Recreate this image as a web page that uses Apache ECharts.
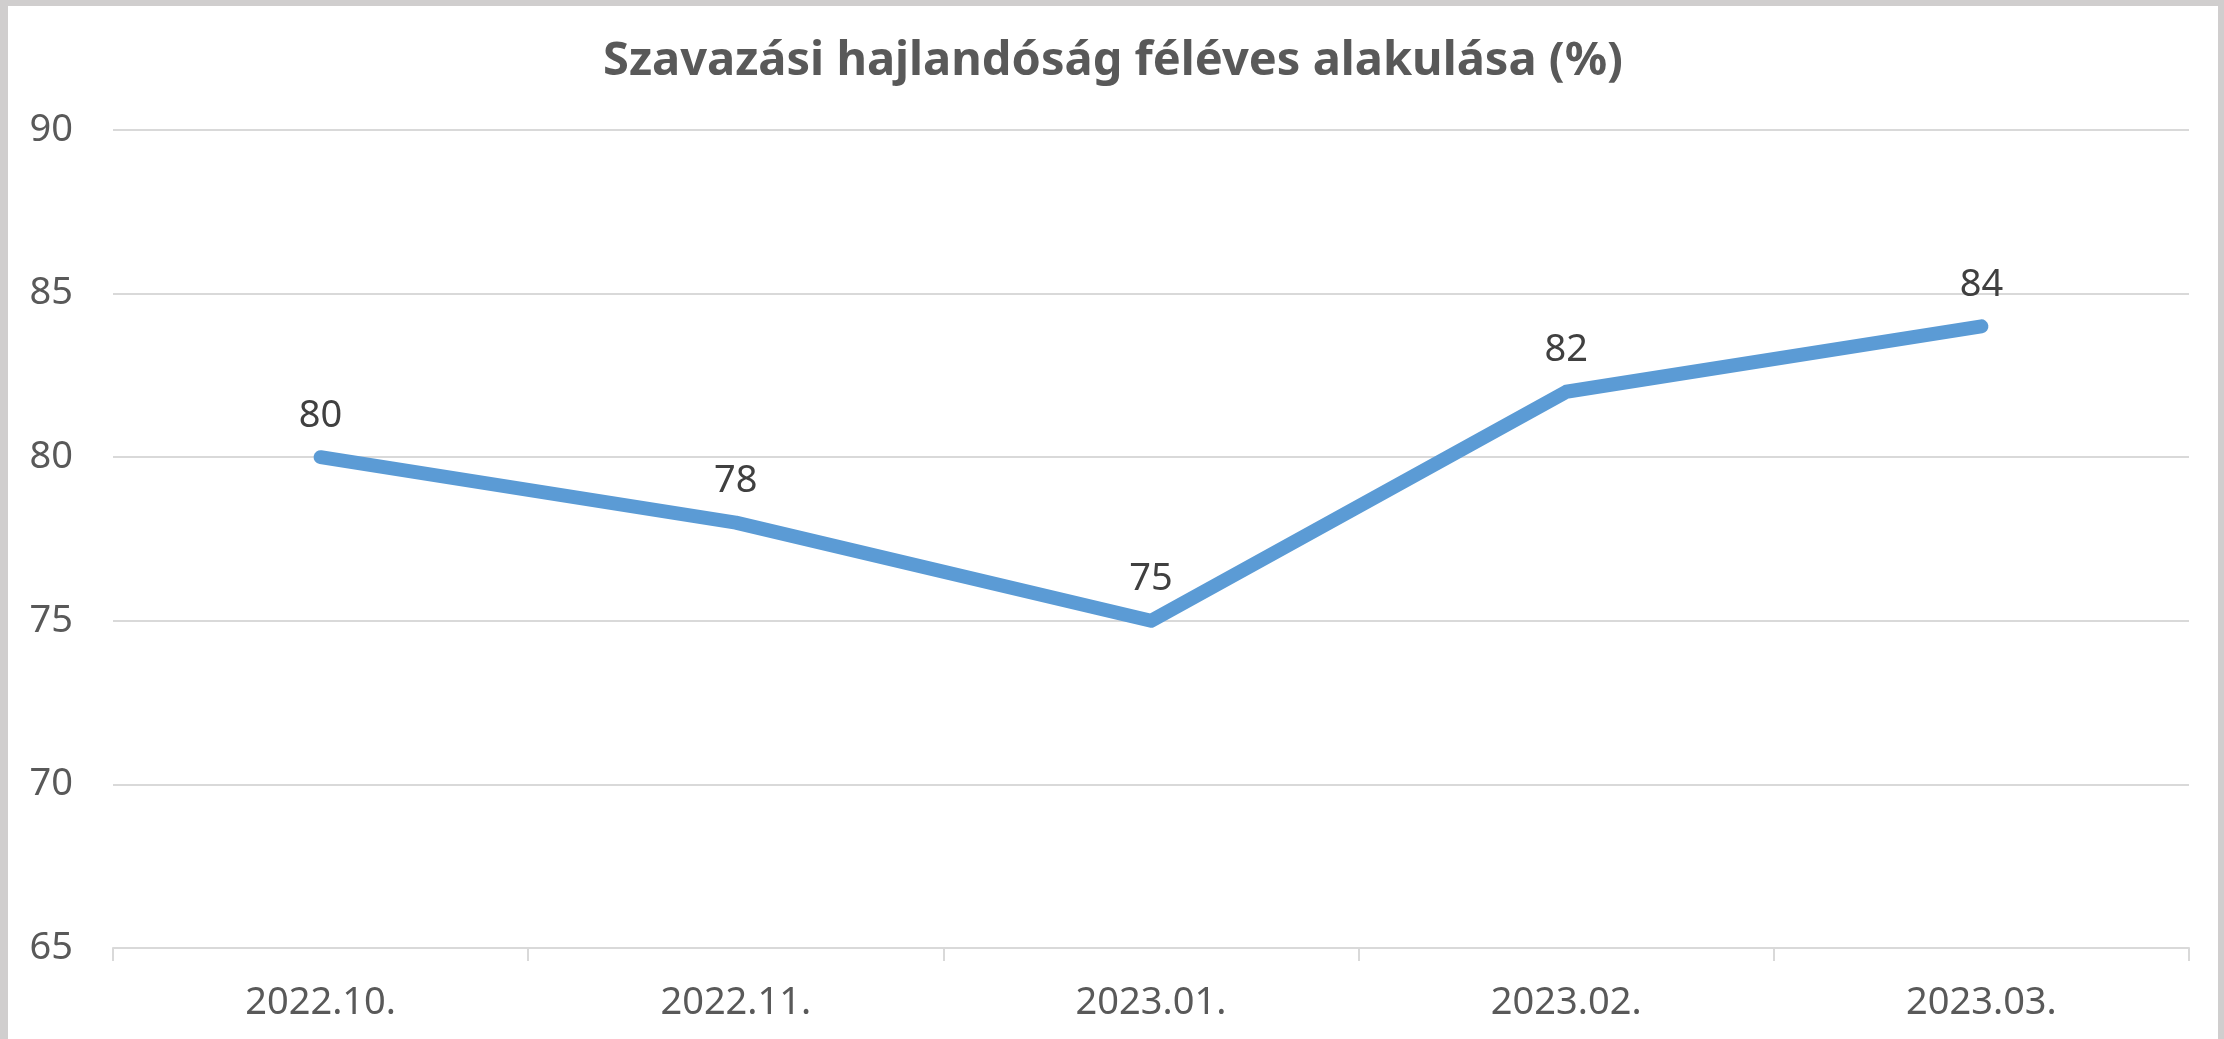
<!DOCTYPE html>
<html>
<head>
<meta charset="utf-8">
<script src="https://cdn.jsdelivr.net/npm/echarts@6/dist/echarts.min.js"></script>
<style>
  html, body { margin: 0; padding: 0; background: #d0cece; width: 2224px; height: 1039px; overflow: hidden; }
  #chart { position: absolute; left: 8px; top: 6px; width: 2210px; height: 1033px; background: #ffffff; }
</style>
</head>
<body>
<div id="chart"></div>
<script>
const titleText = 'Szavazási hajlandóság féléves alakulása (%)';
const categories = ['2022.10.', '2022.11.', '2023.01.', '2023.02.', '2023.03.'];
const values = [80, 78, 75, 82, 84];
const yMin = 65, yMax = 90, yStep = 5;

const FONT = 'Noto Sans';
const chart = echarts.init(document.getElementById('chart'), null, { renderer: 'canvas' });
chart.setOption({
  animation: false,
  backgroundColor: '#ffffff',
  title: {
    text: titleText,
    left: 'center',
    top: 27,
    textStyle: { fontFamily: FONT, fontSize: 47, fontWeight: 'bold', color: '#595959' }
  },
  grid: { left: 105, right: 29, top: 124, bottom: 91, containLabel: false },
  xAxis: {
    type: 'category',
    data: categories,
    boundaryGap: true,
    axisLine: { show: true, lineStyle: { color: '#d9d9d9', width: 2 } },
    axisTick: { show: true, length: 13, lineStyle: { color: '#d9d9d9', width: 2 } },
    axisLabel: { margin: 36, fontFamily: FONT, fontSize: 38, color: '#595959' },
    splitLine: { show: false }
  },
  yAxis: {
    type: 'value',
    min: yMin, max: yMax, interval: yStep,
    axisLine: { show: false },
    axisTick: { show: false },
    axisLabel: { margin: 40, fontFamily: FONT, fontSize: 38, color: '#595959' },
    splitLine: { show: true, lineStyle: { color: '#d9d9d9', width: 2 } }
  },
  series: [{
    type: 'line',
    data: values,
    showSymbol: true,
    symbol: 'circle',
    symbolSize: 1,
    itemStyle: { color: '#5b9bd5' },
    lineStyle: { color: '#5b9bd5', width: 14, cap: 'round', join: 'round' },
    label: {
      show: true, position: 'top', distance: 22,
      fontFamily: FONT, fontSize: 38, color: '#404040'
    }
  }]
});
</script>
</body>
</html>
